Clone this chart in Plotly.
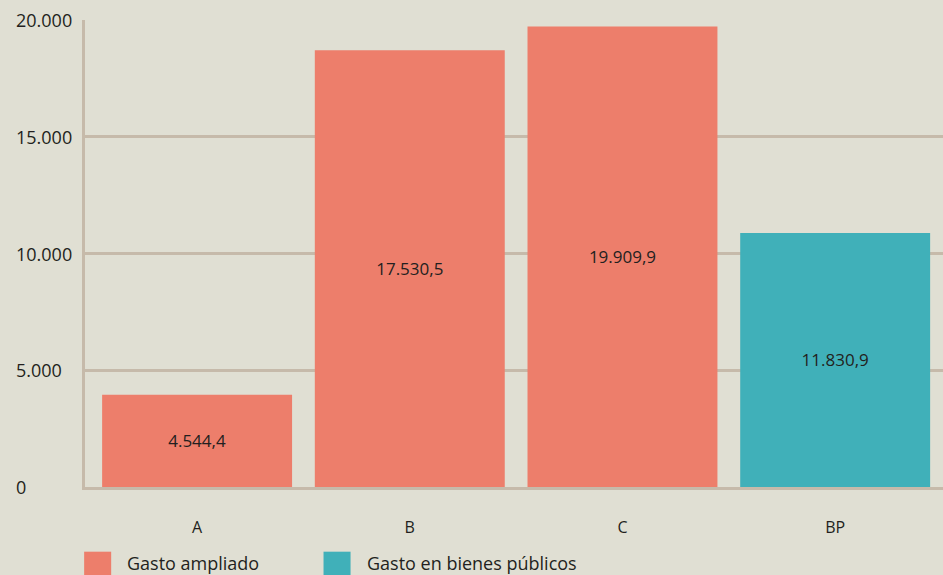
import plotly.graph_objects as go

categories = ["A", "B", "C", "BP"]
series_names = ["Gasto ampliado", "Gasto en bienes públicos"]
series_colors = ["#ed7e6b", "#40b0b9"]

# bar heights as drawn, and the printed labels
ampliado_cats = ["A", "B", "C"]
ampliado_vals = [3950, 18700, 19720]
ampliado_text = ["4.544,4", "17.530,5", "19.909,9"]

bp_cats = ["BP"]
bp_vals = [10880]
bp_text = ["11.830,9"]

y_ticks = [0, 5000, 10000, 15000, 20000]
y_tick_text = ["0", "5.000", "10.000", "15.000", "20.000"]

bg = "#e0dfd3"
grid = "#c6baaa"
ink = "#231f20"
font_family = "Open Sans, Noto Sans, sans-serif"

fig = go.Figure()
fig.add_trace(go.Bar(x=ampliado_cats, y=ampliado_vals, text=ampliado_text,
                     name=series_names[0], marker_color=series_colors[0],
                     marker_line_width=0))
fig.add_trace(go.Bar(x=bp_cats, y=bp_vals, text=bp_text,
                     name=series_names[1], marker_color=series_colors[1],
                     marker_line_width=0))
fig.update_traces(textposition="inside", insidetextanchor="middle",
                  textfont=dict(size=17, color=ink, family=font_family),
                  textangle=0, hoverinfo="skip")

# y tick labels, left aligned like the original
for v, t in zip(y_ticks, y_tick_text):
    fig.add_annotation(x=-0.083, xref="paper", y=v, yref="y", text=t,
                       showarrow=False, xanchor="left", yanchor="middle",
                       font=dict(size=18, color=ink, family=font_family))

# custom legend below the chart
legend_x = [-0.001, 0.278]
for i, name in enumerate(series_names):
    fig.add_shape(type="rect", xref="paper", yref="paper",
                  x0=legend_x[i], x1=legend_x[i] + 0.0315,
                  y0=-0.19, y1=-0.1385, fillcolor=series_colors[i],
                  line_width=0)
    fig.add_annotation(x=legend_x[i] + 0.048, xref="paper", y=-0.163,
                       yref="paper", text=name, showarrow=False,
                       xanchor="left", yanchor="middle",
                       font=dict(size=18, color=ink, family=font_family))

fig.update_layout(
    width=943, height=575,
    margin=dict(l=85, r=0, t=20, b=88),
    paper_bgcolor=bg, plot_bgcolor=bg,
    barmode="overlay", bargap=0.107,
    showlegend=False,
    font=dict(family=font_family, color=ink),
)
fig.update_xaxes(categoryorder="array", categoryarray=categories,
                 range=[-0.527, 3.507], showgrid=False,
                 showline=True, linecolor=grid, linewidth=3,
                 ticks="", ticklabelstandoff=24,
                 tickfont=dict(size=16, color=ink, family=font_family))
fig.update_yaxes(range=[0, 20000], tickvals=y_ticks, showticklabels=False,
                 showgrid=True, gridcolor=grid, gridwidth=3,
                 zeroline=False, showline=True, linecolor=grid, linewidth=3)

fig.write_html("out.html", config={"displayModeBar": False},
               post_script="document.body.style.margin='0';")
